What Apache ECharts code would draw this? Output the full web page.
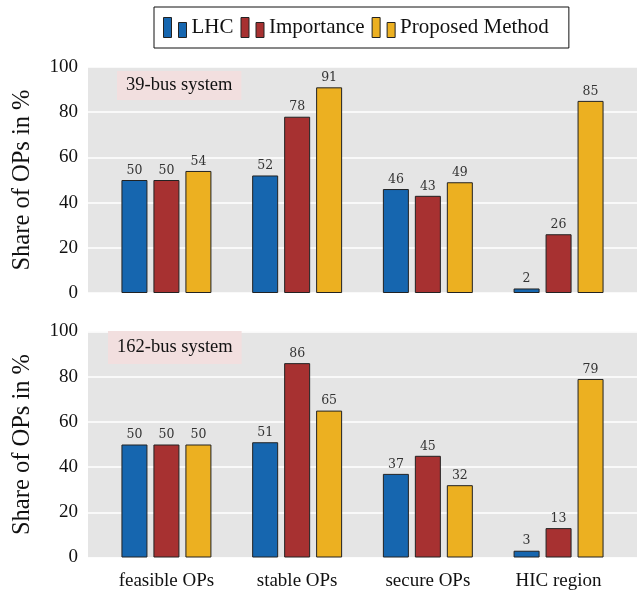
<!DOCTYPE html>
<html>
<head>
<meta charset="utf-8">
<script src="https://cdn.jsdelivr.net/npm/echarts@6/dist/echarts.min.js"></script>
<style>
  html, body { margin: 0; padding: 0; background: #ffffff; }
  #chart { width: 644px; height: 591px; }
</style>
</head>
<body>
<div id="chart"></div>
<script>
// Categories along the x axis
const categories = ['feasible OPs', 'stable OPs', 'secure OPs', 'HIC region'];

// 39-bus system shares (%)
const lhc39 = [50, 52, 46, 2];
const importance39 = [50, 78, 43, 26];
const proposed39 = [54, 91, 49, 85];

// 162-bus system shares (%)
const lhc162 = [50, 51, 37, 3];
const importance162 = [50, 86, 45, 13];
const proposed162 = [50, 65, 32, 79];

// y axis ticks
const yTicks = [0, 20, 40, 60, 80, 100];

const seriesNames = ['LHC', 'Importance', 'Proposed Method'];
const colors = ['#1666af', '#a73131', '#ecb021'];

const serif = 'Liberation Serif';
const legendIcon = 'path://M0,0 L8,0 L8,20 L0,20 Z M15,5 L23,5 L23,20 L15,20 Z';

function pairs(values) {
  return values.map((v, i) => [i, v]);
}

function barSeries(name, values, color, axisIdx) {
  return {
    type: 'bar',
    name: name,
    xAxisIndex: axisIdx,
    yAxisIndex: axisIdx,
    data: pairs(values),
    barWidth: 26,
    barGap: '23%',
    itemStyle: { color: color, borderColor: '#222222', borderWidth: 1 },
    label: {
      show: true,
      position: 'top',
      distance: 3,
      fontFamily: 'DejaVu Serif',
      fontSize: 12.5,
      color: '#333333',
      formatter: p => String(p.value[1])
    },
    emphasis: { disabled: true }
  };
}

function xAxis(gridIndex, showLabels) {
  return {
    type: 'value',
    gridIndex: gridIndex,
    min: -0.6,
    max: 3.6,
    axisLine: { show: false },
    axisTick: { show: false },
    splitLine: { show: false },
    axisLabel: {
      show: showLabels,
      customValues: [0, 1, 2, 3],
      formatter: v => categories[Math.round(v)],
      fontFamily: serif,
      fontSize: 19,
      color: '#111111',
      margin: 14
    }
  };
}

function yAxis(gridIndex) {
  return {
    type: 'value',
    gridIndex: gridIndex,
    min: yTicks[0],
    max: yTicks[yTicks.length - 1],
    interval: yTicks[1] - yTicks[0],
    name: 'Share of OPs in %',
    nameLocation: 'middle',
    nameGap: 53,
    nameTextStyle: { fontFamily: serif, fontSize: 24.5, color: '#111111' },
    axisLine: { show: false },
    axisTick: { show: false },
    axisLabel: { fontFamily: serif, fontSize: 19, color: '#111111', margin: 10 },
    splitLine: { show: true, lineStyle: { color: '#ffffff', width: 1.5 } }
  };
}

const chart = echarts.init(document.getElementById('chart'), null, { renderer: 'canvas' });

chart.setOption({
  animation: false,
  backgroundColor: '#ffffff',
  title: [
    {
      text: '39-bus system',
      left: 117, top: 71,
      padding: [5, 9, 5, 9],
      backgroundColor: '#f2dfdf',
      textStyle: { fontFamily: serif, fontSize: 18.5, fontWeight: 'normal', color: '#111111' }
    },
    {
      text: '162-bus system',
      left: 108, top: 331,
      padding: [7, 9, 7, 9],
      backgroundColor: '#f2dfdf',
      textStyle: { fontFamily: serif, fontSize: 18.5, fontWeight: 'normal', color: '#111111' }
    }
  ],
  legend: {
    data: seriesNames,
    left: 154,
    top: 7,
    padding: [10, 20, 10, 9],
    itemWidth: 23,
    itemHeight: 20,
    itemGap: 7,
    icon: legendIcon,
    borderColor: '#111111',
    borderWidth: 1,
    backgroundColor: '#ffffff',
    selectedMode: false,
    textStyle: { fontFamily: serif, fontSize: 21, color: '#111111' },
    itemStyle: { borderColor: '#222222', borderWidth: 1 }
  },
  grid: [
    { left: 88, right: 7, top: 67, height: 226, show: true, backgroundColor: '#e5e5e5', borderWidth: 0, outerBoundsMode: 'none', containLabel: false },
    { left: 88, right: 7, top: 331.5, height: 226, show: true, backgroundColor: '#e5e5e5', borderWidth: 0, outerBoundsMode: 'none', containLabel: false }
  ],
  xAxis: [xAxis(0, false), xAxis(1, true)],
  yAxis: [yAxis(0), yAxis(1)],
  series: [
    barSeries(seriesNames[0], lhc39, colors[0], 0),
    barSeries(seriesNames[1], importance39, colors[1], 0),
    barSeries(seriesNames[2], proposed39, colors[2], 0),
    barSeries(seriesNames[0], lhc162, colors[0], 1),
    barSeries(seriesNames[1], importance162, colors[1], 1),
    barSeries(seriesNames[2], proposed162, colors[2], 1)
  ]
});
</script>
</body>
</html>
